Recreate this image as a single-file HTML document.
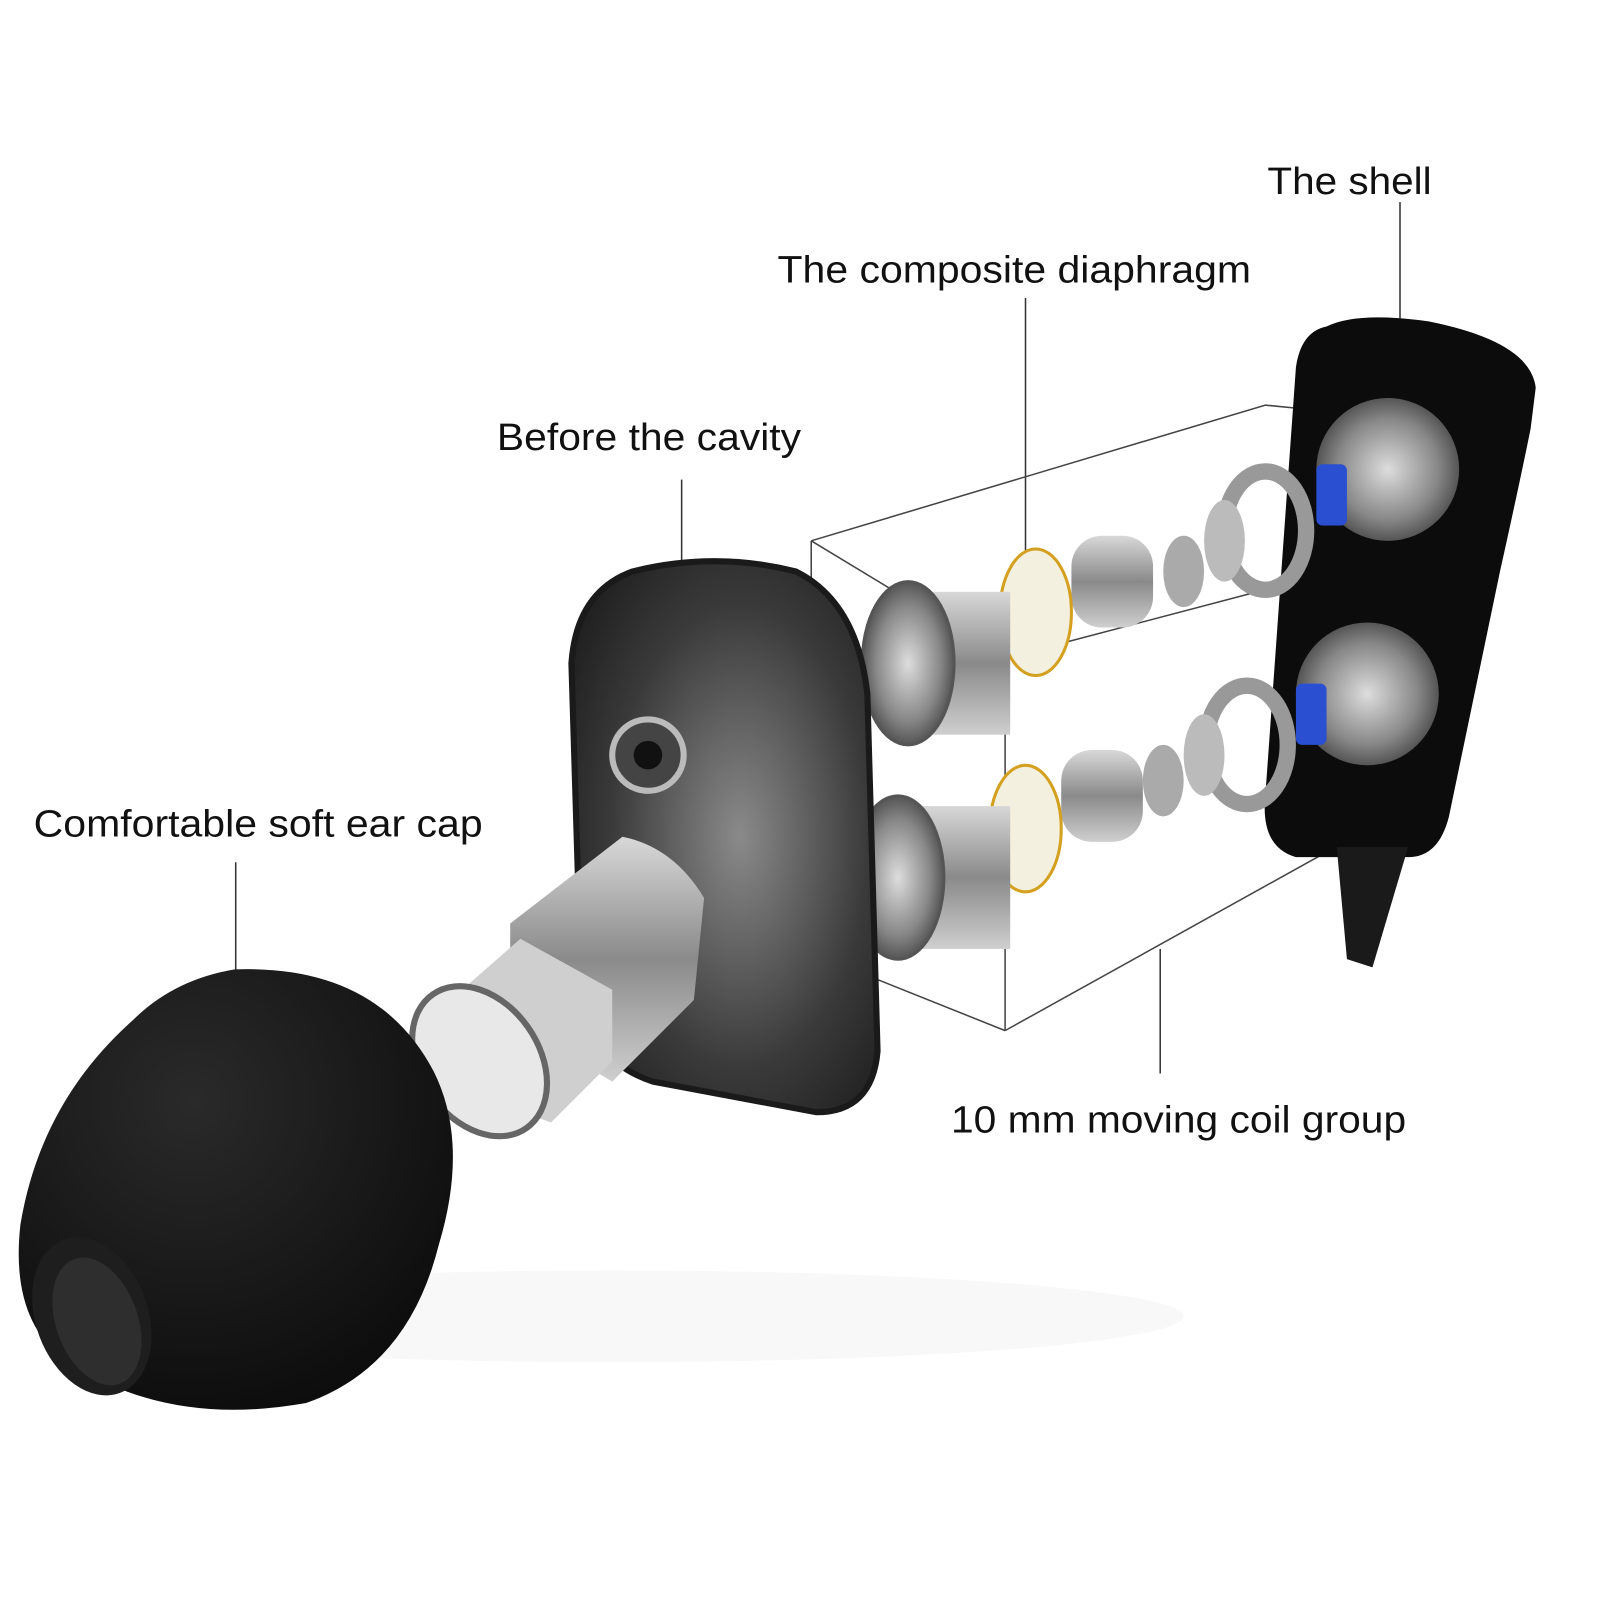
<!DOCTYPE html>
<html><head><meta charset="utf-8"><style>
html,body{margin:0;padding:0;background:#fff;}
svg{display:block}
text{font-family:"Liberation Sans",sans-serif;fill:#111;}
</style></head><body>
<svg width="1600" height="1600" viewBox="0 0 1568 1568" xmlns="http://www.w3.org/2000/svg">
<defs>
<radialGradient id="cap" cx="0.4" cy="0.3" r="0.8"><stop offset="0" stop-color="#2a2a2a"/><stop offset="1" stop-color="#0a0a0a"/></radialGradient>
<linearGradient id="metal" x1="0" y1="0" x2="0" y2="1"><stop offset="0" stop-color="#d8d8d8"/><stop offset="0.5" stop-color="#8a8a8a"/><stop offset="1" stop-color="#cfcfcf"/></linearGradient>
<radialGradient id="cav" cx="0.55" cy="0.5" r="0.7"><stop offset="0" stop-color="#8a8a8a"/><stop offset="0.6" stop-color="#3a3a3a"/><stop offset="1" stop-color="#1a1a1a"/></radialGradient>
<radialGradient id="drv" cx="0.5" cy="0.5" r="0.5"><stop offset="0" stop-color="#ddd"/><stop offset="0.7" stop-color="#888"/><stop offset="1" stop-color="#555"/></radialGradient>
</defs>
<ellipse cx="600" cy="1290" rx="560" ry="45" fill="#f8f8f8"/>
<!-- labels -->
<text x="1242" y="190" font-size="37" textLength="161" lengthAdjust="spacingAndGlyphs">The shell</text>
<text x="762" y="277" font-size="37" textLength="464" lengthAdjust="spacingAndGlyphs">The composite diaphragm</text>
<text x="487" y="441" font-size="37" textLength="298" lengthAdjust="spacingAndGlyphs">Before the cavity</text>
<text x="33" y="820" font-size="37" textLength="440" lengthAdjust="spacingAndGlyphs">Comfortable soft ear cap</text>
<text x="932" y="1110" font-size="37" textLength="446" lengthAdjust="spacingAndGlyphs">10 mm moving coil group</text>
<g stroke="#333" stroke-width="1.5">
<line x1="1372" y1="198" x2="1372" y2="312"/>
<line x1="1005" y1="292" x2="1005" y2="540"/>
<line x1="668" y1="470" x2="668" y2="578"/>
<line x1="231" y1="845" x2="231" y2="1010"/>
<line x1="1137" y1="930" x2="1137" y2="1052"/>
</g>
<!-- wireframe box -->
<g stroke="#444" stroke-width="1.5" fill="none">
<polyline points="795,530 1240,397 1270,400"/>
<line x1="795" y1="530" x2="795" y2="620"/>
<polyline points="985,645 1270,570"/>
<line x1="985" y1="645" x2="985" y2="1010"/>
<line x1="985" y1="1010" x2="1300" y2="835"/>
<line x1="795" y1="530" x2="985" y2="645"/>
<line x1="860" y1="960" x2="985" y2="1010"/>
</g>
<!-- shell -->
<path d="M1300,320 Q1330,305 1400,315 Q1500,335 1505,380 L1500,420 Q1490,470 1470,560 L1420,800 Q1410,840 1380,840 L1270,840 Q1235,830 1240,780 L1270,360 Q1275,325 1300,320 Z" fill="#0c0c0c"/>
<circle cx="1360" cy="460" r="70" fill="url(#drv)"/>
<circle cx="1340" cy="680" r="70" fill="url(#drv)"/>
<path d="M1310,830 L1380,830 L1345,948 L1320,940 Z" fill="#1a1a1a"/>
<!-- components -->
<g>
<rect x="1290" y="455" width="30" height="60" rx="6" fill="#2a4fd0"/>
<rect x="1270" y="670" width="30" height="60" rx="6" fill="#2a4fd0"/>
<ellipse cx="1240" cy="520" rx="40" ry="58" fill="none" stroke="#999" stroke-width="16"/>
<ellipse cx="1222" cy="730" rx="40" ry="58" fill="none" stroke="#999" stroke-width="16"/>
<ellipse cx="1200" cy="530" rx="20" ry="40" fill="#bbb"/>
<ellipse cx="1180" cy="740" rx="20" ry="40" fill="#bbb"/>
<ellipse cx="1160" cy="560" rx="20" ry="35" fill="#aaa"/>
<ellipse cx="1140" cy="765" rx="20" ry="35" fill="#aaa"/>
<rect x="1050" y="525" width="80" height="90" rx="30" fill="url(#metal)"/>
<rect x="1040" y="735" width="80" height="90" rx="30" fill="url(#metal)"/>
<ellipse cx="1015" cy="600" rx="35" ry="62" fill="#f4f0e0" stroke="#d4a020" stroke-width="3"/>
<ellipse cx="1005" cy="812" rx="35" ry="62" fill="#f4f0e0" stroke="#d4a020" stroke-width="3"/>
<rect x="890" y="580" width="100" height="140" fill="url(#metal)"/>
<rect x="880" y="790" width="110" height="140" fill="url(#metal)"/>
<ellipse cx="890" cy="650" rx="45" ry="80" fill="url(#drv)" stroke="#555" stroke-width="3"/>
<ellipse cx="880" cy="860" rx="45" ry="80" fill="url(#drv)" stroke="#555" stroke-width="3"/>
</g>
<!-- front cavity -->
<path d="M620,560 Q700,540 780,560 Q840,590 850,680 L860,1030 Q855,1090 800,1090 L640,1060 Q580,1040 570,980 L560,650 Q565,580 620,560 Z" fill="url(#cav)" stroke="#1a1a1a" stroke-width="6"/>
<circle cx="635" cy="740" r="35" fill="#444" stroke="#bbb" stroke-width="6"/>
<circle cx="635" cy="740" r="14" fill="#111"/>
<!-- nozzle -->
<path d="M500,905 L610,820 Q660,830 690,880 L680,980 L600,1060 L500,1000 Z" fill="url(#metal)"/>
<path d="M430,990 L510,920 L600,970 L600,1040 L540,1100 L430,1060 Z" fill="#cfcfcf"/>
<ellipse cx="470" cy="1040" rx="58" ry="80" transform="rotate(-35 470 1040)" fill="#e8e8e8" stroke="#666" stroke-width="6"/>
<!-- ear cap -->
<path d="M230,950 Q370,945 425,1050 Q460,1120 430,1220 Q400,1340 300,1375 Q160,1400 60,1330 Q10,1290 20,1200 Q40,1080 130,1000 Q170,960 230,950 Z" fill="url(#cap)"/>
<ellipse cx="90" cy="1290" rx="55" ry="80" transform="rotate(-20 90 1290)" fill="#1e1e1e"/>
<ellipse cx="95" cy="1295" rx="40" ry="65" transform="rotate(-20 95 1295)" fill="#2e2e2e"/>
</svg>
</body></html>
